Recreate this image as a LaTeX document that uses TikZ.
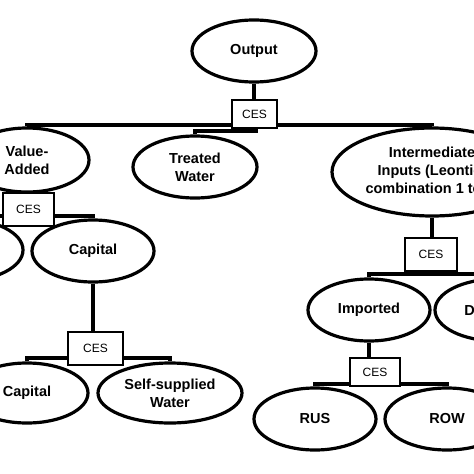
\documentclass[tikz,border=0pt]{standalone}
\usepackage{fontspec}
\setmainfont{Liberation Sans}
\usetikzlibrary{shapes.geometric}
\pgfdeclarelayer{bg}
\pgfsetlayers{bg,main}
\begin{document}
\begin{tikzpicture}[x=1pt,y=-1pt,
  ell/.style={draw,ellipse,line width=3.2pt,inner sep=0pt,align=center,
    font=\fontsize{14.5}{18}\selectfont\bfseries},
  ces/.style={draw,fill=white,line width=2pt,inner sep=0pt,
    font=\fontsize{12}{13}\selectfont},
  conn/.style={line width=3.6pt}]
\useasboundingbox (0,0) rectangle (474,474);
\clip (0,0) rectangle (474,474);
% ellipses
\node[ell,minimum width=124pt,minimum height=62pt] (out) at (254,51) {Output};
\node[ell,minimum width=124pt,minimum height=64pt] (va) at (27,160) {Value-\\Added};
\node[ell,minimum width=124pt,minimum height=62pt] (tw) at (195,167) {Treated\\Water};
\node[ell,minimum width=200pt,minimum height=88pt] (ii) at (432,172) {Intermediate\\Inputs (Leontief\\combination 1 to 1)};
\node[ell,minimum width=122pt,minimum height=62pt] (lab) at (-38,250) {};
\node[ell,minimum width=122pt,minimum height=62pt] (cap1) at (93,251) {Capital};
\node[ell,minimum width=122pt,minimum height=60pt] (cap2) at (27,393) {Capital};
\node[ell,minimum width=144pt,minimum height=60pt] (ssw) at (170,393) {Self-supplied\\Water};
\node[ell,minimum width=122pt,minimum height=62pt] (imp) at (369,310) {Imported};
\node[ell,minimum width=124pt,minimum height=62pt] (dom) at (497,310) {Domestic};
\node[ell,minimum width=122pt,minimum height=62pt] (rus) at (315,419) {RUS};
\node[ell,minimum width=124pt,minimum height=62pt] (row) at (447,419) {ROW};
% CES boxes
\node[ces,minimum width=45pt,minimum height=28pt] (c1) at (254.5,114) {CES};
\node[ces,minimum width=51pt,minimum height=33pt] (c2) at (28.5,209.5) {CES};
\node[ces,minimum width=55pt,minimum height=33pt] (c3) at (95.5,348.5) {CES};
\node[ces,minimum width=52pt,minimum height=33pt] (c4) at (431,254.5) {CES};
\node[ces,minimum width=50pt,minimum height=28pt] (c5) at (375,372) {CES};
% connectors
\coordinate (b1) at (0,125);
\coordinate (t1) at (256,131);
\coordinate (b2) at (0,216);
\coordinate (b3) at (0,358);
\coordinate (b4) at (0,274);
\coordinate (b5) at (0,384);
\begin{pgfonlayer}{bg}
\draw[conn] (out.south) -- (out.south |- c1.north);
\draw[conn] (va.north) -- (va.north |- b1) -- (ii.north |- b1) -- (ii.north);
\draw[conn] (t1 |- c1.south) -- (t1) -| (tw.north);
\draw[conn] (va.south) -- (va.south |- c2.north);
\draw[conn] (lab.north) -- (lab.north |- b2) -- (cap1.north |- b2) -- (cap1.north);
\draw[conn] (cap1.south) -- (cap1.south |- c3.north);
\draw[conn] (cap2.north) -- (cap2.north |- b3) -- (ssw.north |- b3) -- (ssw.north);
\draw[conn] (ii.south) -- (ii.south |- c4.north);
\draw[conn] (c4.south) -- (c4.south |- b4);
\draw[conn] (imp.north) -- (imp.north |- b4) -- (dom.north |- b4) -- (dom.north);
\draw[conn] (imp.south) -- (imp.south |- c5.north);
\draw[conn] (rus.north) -- (rus.north |- b5) -- (row.north |- b5) -- (row.north);
\end{pgfonlayer}
\end{tikzpicture}
\end{document}
